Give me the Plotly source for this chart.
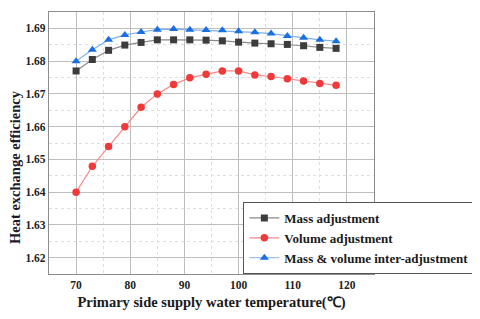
import plotly.graph_objects as go

temps = [70, 73, 76, 79, 82, 85, 88, 91, 94, 97, 100, 103, 106, 109, 112, 115, 118]
mass_adj = [1.6770, 1.6805, 1.6833, 1.6849, 1.6857, 1.6865, 1.6865, 1.6865, 1.6864, 1.6862,
            1.6858, 1.6855, 1.6853, 1.6851, 1.6847, 1.6842, 1.6839]
volume_adj = [1.6400, 1.6479, 1.6539, 1.6600, 1.6659, 1.6700, 1.6729, 1.6749, 1.6760, 1.6770,
              1.6770, 1.6758, 1.6753, 1.6746, 1.6739, 1.6732, 1.6726]
inter_adj = [1.6800, 1.6835, 1.6865, 1.6880, 1.6889, 1.6896, 1.6898, 1.6896, 1.6895, 1.6894,
             1.6891, 1.6888, 1.6884, 1.6877, 1.6871, 1.6865, 1.6861]
names = ["Mass adjustment", "Volume adjustment", "Mass & volume inter-adjustment"]
x_title = "Primary side supply water temperature(℃)"
y_title = "Heat exchange efficiency"

serif = "Liberation Serif"
fig = go.Figure()
fig.add_trace(go.Scatter(x=temps, y=mass_adj, name=names[0], mode="lines+markers",
                         line=dict(color="#8a8a8a", width=1.2),
                         marker=dict(symbol="square", size=7, color="#3c3c3c")))
fig.add_trace(go.Scatter(x=temps, y=volume_adj, name=names[1], mode="lines+markers",
                         line=dict(color="#f58a8a", width=1.2),
                         marker=dict(symbol="circle", size=7.5, color="#f03a3a")))
fig.add_trace(go.Scatter(x=temps, y=inter_adj, name=names[2], mode="lines+markers",
                         line=dict(color="#7fb0ee", width=1.2),
                         marker=dict(symbol="triangle-up", size=8, color="#1a6fe0")))

axis_common = dict(showline=True, mirror=True, linecolor="#8c8c8c", linewidth=1.3,
                   showgrid=True, gridcolor="#bdbdbd", gridwidth=1, zeroline=False,
                   ticks="", tickfont=dict(family=serif, size=11.5, color="#222", weight="bold"))

fig.update_xaxes(range=[65, 125], dtick=10, tick0=70,
                 minor=dict(dtick=5, tick0=70, showgrid=True, gridcolor="#dedede", griddash="dot"),
                 title=dict(text=x_title,
                            font=dict(family=serif, size=14.5, color="#1a1a1a", weight="bold"),
                            standoff=9),
                 **axis_common)
fig.update_yaxes(range=[1.615, 1.695], dtick=0.01, tick0=1.62, tickformat=".2f",
                 minor=dict(dtick=0.005, tick0=1.62, showgrid=True, gridcolor="#dedede", griddash="dot"),
                 **axis_common)

fig.add_annotation(text=y_title, xref="paper", yref="paper", x=-0.105, y=0.408,
                   xanchor="center", yanchor="middle", textangle=-90, showarrow=False,
                   font=dict(family=serif, size=14.5, color="#1a1a2a", weight="bold"))

fig.update_layout(
    width=464, height=303,
    margin=dict(l=41, r=98, t=3.5, b=37, autoexpand=False),
    paper_bgcolor="white", plot_bgcolor="white",
    showlegend=True,
    legend=dict(x=0.598, y=0.0, xanchor="left", yanchor="bottom",
                bgcolor="white", bordercolor="#555", borderwidth=1,
                font=dict(family=serif, size=13, color="#1a1a1a", weight="bold"),
                tracegroupgap=0, itemwidth=30),
)

fig.write_html("out.html")
